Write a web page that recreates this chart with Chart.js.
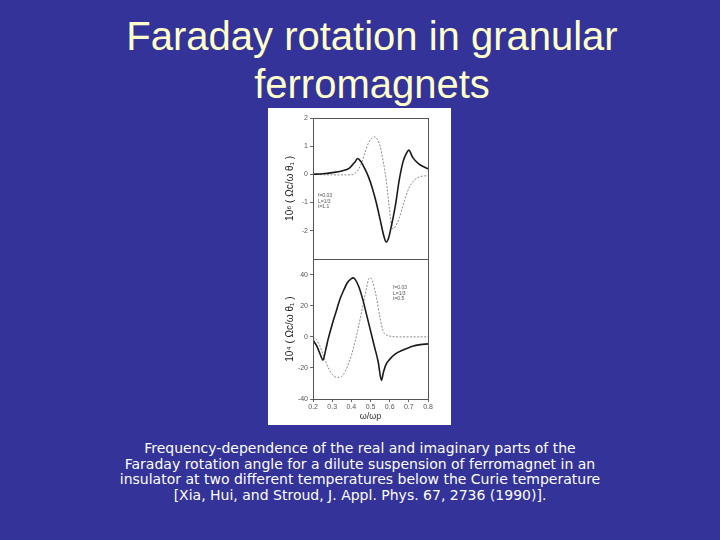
<!DOCTYPE html>
<html>
<head>
<meta charset="utf-8">
<script src="https://cdn.jsdelivr.net/npm/chart.js@4"></script>
<style>
  html, body { margin: 0; padding: 0; }
  body { width: 720px; height: 540px; background: #333399; position: relative; overflow: hidden;
         font-family: "Liberation Sans", Arial, sans-serif; }
  #title { position: absolute; left: 24px; width: 696px; top: 12px; text-align: center;
           color: #ffffcc; font-size: 40px; line-height: 48px; }
  #figure { position: absolute; left: 268px; top: 108px; width: 183px; height: 317px; background: #fff; }
  #topWrap { position: absolute; left: 268px; top: 108px; }
  #bottomWrap { position: absolute; left: 268px; top: 253px; }
  .note { position: absolute; font-size: 5px; line-height: 5.5px; color: #555; white-space: nowrap; }
  #caption { position: absolute; left: 0; width: 720px; top: 441px; text-align: center;
             color: #fff; font-family: "DejaVu Sans", Verdana, sans-serif; font-size: 14px; line-height: 15.6px; }
</style>
</head>
<body>
<div id="title">Faraday rotation in granular<br>ferromagnets</div>
<div id="figure"></div>
<div id="topWrap"><canvas id="topChart" width="183" height="157"></canvas></div>
<div id="bottomWrap"><canvas id="bottomChart" width="183" height="172"></canvas></div>
<div class="note" style="left:318px; top:193px;">f=0.03<br>L=1/3<br>t=1.1</div>
<div class="note" style="left:393px; top:285px;">f=0.03<br>L=1/3<br>t=0.5</div>
<div id="caption">Frequency-dependence of the real and imaginary parts of the<br>Faraday rotation angle for a dilute suspension of ferromagnet in an<br>insulator at two different temperatures below the Curie temperature<br>[Xia, Hui, and Stroud, J. Appl. Phys. 67, 2736 (1990)].</div>

<script>
// upper panel (10^6 scale)
const topSolidX = [0.20, 0.25, 0.30, 0.35, 0.39, 0.42, 0.433, 0.45, 0.47, 0.49, 0.51, 0.53, 0.55, 0.57, 0.582, 0.595, 0.61, 0.63, 0.65, 0.67, 0.69, 0.70, 0.72, 0.75, 0.78, 0.80];
const topSolidY = [0.0, 0.02, 0.06, 0.12, 0.22, 0.45, 0.56, 0.45, 0.2, -0.1, -0.5, -1.0, -1.6, -2.2, -2.4, -2.25, -1.8, -1.1, -0.2, 0.45, 0.78, 0.86, 0.6, 0.38, 0.26, 0.2];
const topDotX = [0.20, 0.30, 0.40, 0.43, 0.45, 0.47, 0.49, 0.51, 0.52, 0.535, 0.55, 0.565, 0.58, 0.595, 0.605, 0.617, 0.63, 0.65, 0.67, 0.70, 0.73, 0.76, 0.80];
const topDotY = [0.0, -0.02, -0.02, 0.1, 0.35, 0.75, 1.12, 1.3, 1.33, 1.25, 1.0, 0.5, -0.1, -1.0, -1.6, -1.94, -1.85, -1.55, -1.1, -0.5, -0.2, -0.08, -0.05];

// lower panel (10^4 scale)
const botSolidX = [0.20, 0.22, 0.24, 0.252, 0.265, 0.28, 0.30, 0.32, 0.34, 0.36, 0.38, 0.40, 0.41, 0.42, 0.44, 0.46, 0.48, 0.50, 0.52, 0.54, 0.557, 0.567, 0.58, 0.60, 0.63, 0.67, 0.72, 0.76, 0.80];
const botSolidY = [-2, -6, -12, -15, -9, -1, 8, 16, 24, 30, 35, 37.5, 38, 37, 32, 24, 14, 4, -6, -16, -28, -23, -18, -14.5, -11, -8.5, -6, -5, -4.5];
const botDotX = [0.20, 0.22, 0.24, 0.26, 0.28, 0.30, 0.32, 0.34, 0.36, 0.38, 0.40, 0.42, 0.44, 0.46, 0.48, 0.49, 0.50, 0.51, 0.53, 0.55, 0.565, 0.58, 0.60, 0.65, 0.80];
const botDotY = [0, -2, -7, -14, -20, -24, -26, -26, -24, -19, -12, -3, 8, 20, 32, 37, 38, 36, 26, 12, 4, 1.5, 0.5, 0, 0];

const topTicks = [-3, -2, -1, 0, 1, 2];
const botTicks = [-40, -20, 0, 20, 40];

Chart.defaults.font.family = "'Liberation Sans', 'DejaVu Sans', sans-serif";
Chart.defaults.animation = false;

const pts = (xs, ys) => xs.map((x, i) => ({ x: x, y: ys[i] }));

const framePlugin = {
  id: "frame",
  afterDatasetsDraw(chart) {
    const a = chart.chartArea;
    const ctx = chart.ctx;
    ctx.save();
    ctx.strokeStyle = "#555";
    ctx.lineWidth = 1;
    ctx.strokeRect(Math.round(a.left) + 0.5, Math.round(a.top) + 0.5,
      Math.round(a.right - a.left), Math.round(a.bottom - a.top));
    ctx.restore();
  },
};

const solidStyle = { borderColor: "#1a1a1a", borderWidth: 1.6, pointRadius: 0, cubicInterpolationMode: "monotone" };
const dotStyle = { borderColor: "#8a8a8a", borderWidth: 1, borderDash: [2, 1.5], pointRadius: 0, cubicInterpolationMode: "monotone" };

const topChart = new Chart(document.getElementById("topChart"), {
  type: "line",
  data: {
    datasets: [
      Object.assign({ label: "solid", data: pts(topSolidX, topSolidY) }, solidStyle),
      Object.assign({ label: "dotted", data: pts(topDotX, topDotY) }, dotStyle),
    ],
  },
  options: {
    responsive: false,
    layout: { padding: { top: 10, bottom: 2, left: 0, right: 23 } },
    plugins: { legend: { display: false }, tooltip: { enabled: false } },
    scales: {
      x: { type: "linear", min: 0.2, max: 0.8, display: false },
      y: {
        min: -3, max: 2,
        afterBuildTicks: (s) => { s.ticks = topTicks.map((v) => ({ value: v })); },
        ticks: { callback: (v) => (v === -3 ? null : v), font: { size: 7 }, color: "#555", padding: 2 },
        grid: { drawOnChartArea: false, tickLength: 3, color: "#666" },
        border: { display: false },
        title: { display: true, text: "10⁶ ( Ωc/ω θ₁ )", font: { size: 10 }, color: "#222", padding: { top: 16, bottom: 0 } },
        afterFit: (s) => { s.width = 45; },
      },
    },
  },
  plugins: [framePlugin],
});

const bottomChart = new Chart(document.getElementById("bottomChart"), {
  type: "line",
  data: {
    datasets: [
      Object.assign({ label: "solid", data: pts(botSolidX, botSolidY) }, solidStyle),
      Object.assign({ label: "dotted", data: pts(botDotX, botDotY) }, dotStyle),
    ],
  },
  options: {
    responsive: false,
    layout: { padding: { top: 1, bottom: 0, left: 0, right: 23 } },
    plugins: { legend: { display: false }, tooltip: { enabled: false } },
    scales: {
      x: {
        type: "linear", min: 0.2, max: 0.8,
        ticks: { stepSize: 0.1, callback: (v) => v.toFixed(1), font: { size: 7 }, color: "#555", padding: 1, maxRotation: 0 },
        grid: { drawOnChartArea: false, tickLength: 3, color: "#666" },
        border: { display: false },
        title: { display: true, text: "ω/ωp", font: { size: 9 }, color: "#333", padding: { top: 0, bottom: 3 } },
        afterFit: (s) => { s.height = 26; },
      },
      y: {
        min: -40, max: 50,
        afterBuildTicks: (s) => { s.ticks = botTicks.map((v) => ({ value: v })); },
        ticks: { font: { size: 7 }, color: "#555", padding: 2 },
        grid: { drawOnChartArea: false, tickLength: 3, color: "#666" },
        border: { display: false },
        title: { display: true, text: "10⁴ ( Ωc/ω θ₁ )", font: { size: 10 }, color: "#222", padding: { top: 16, bottom: 0 } },
        afterFit: (s) => { s.width = 45; },
      },
    },
  },
  plugins: [framePlugin],
});
</script>
</body>
</html>
